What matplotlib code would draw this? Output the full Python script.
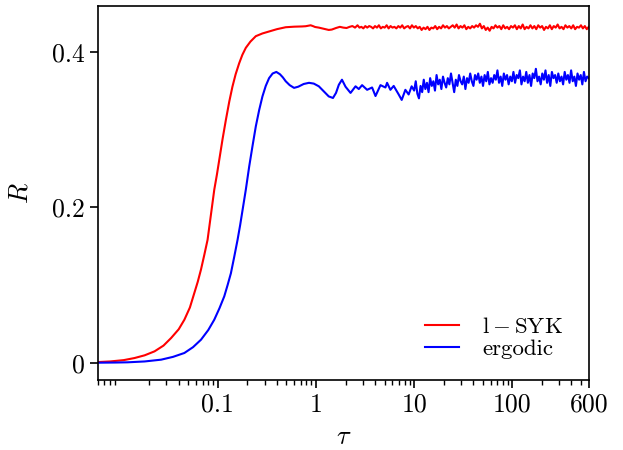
import numpy as np
import matplotlib
matplotlib.use('Agg')
import matplotlib.pyplot as plt
from matplotlib.ticker import FixedLocator, FixedFormatter, LogLocator, NullFormatter

plt.rcParams['font.family'] = 'serif'
plt.rcParams['font.serif'] = ['cmr10', 'DejaVu Serif']
plt.rcParams['mathtext.fontset'] = 'cm'
plt.rcParams['axes.unicode_minus'] = False

# l-SYK: smooth rise, then noisy plateau
syk_tau = [0.006, 0.008, 0.011, 0.0142, 0.018, 0.0227, 0.028, 0.0335, 0.04, 0.0457,
           0.052, 0.0577, 0.0625, 0.0675, 0.073, 0.0787, 0.0865, 0.0921, 0.098, 0.1035,
           0.112, 0.121, 0.131, 0.141, 0.152, 0.165, 0.178, 0.193, 0.215, 0.244,
           0.285, 0.333, 0.4, 0.492, 0.6, 0.72, 0.786, 0.84, 0.883, 0.93,
           0.98, 1.07, 1.2, 1.35, 1.45, 1.6, 1.75, 1.9, 2.05, 2.2,
           2.35, 2.5]
syk_R = [0.0008, 0.0016, 0.0033, 0.006, 0.0095, 0.0146, 0.022, 0.0318, 0.043, 0.0553,
         0.071, 0.0896, 0.104, 0.12, 0.139, 0.158, 0.197, 0.2225, 0.242, 0.261,
         0.288, 0.3125, 0.336, 0.355, 0.371, 0.385, 0.396, 0.405, 0.413, 0.420,
         0.4235, 0.426, 0.429, 0.4315, 0.4322, 0.4325, 0.4328, 0.4335, 0.434, 0.433,
         0.4318, 0.431, 0.4295, 0.428, 0.4285, 0.4305, 0.432, 0.431, 0.4305, 0.432,
         0.433, 0.431]
syk_noisy = [0.434, 0.431, 0.432, 0.430, 0.433, 0.431, 0.433, 0.432, 0.430, 0.433,
             0.431, 0.434, 0.430, 0.432, 0.431, 0.434, 0.430, 0.433, 0.431, 0.432,
             0.430, 0.433, 0.431, 0.434, 0.430, 0.432, 0.433, 0.430, 0.434, 0.431,
             0.433, 0.430, 0.432, 0.428, 0.431, 0.429, 0.432, 0.428, 0.431, 0.430,
             0.433, 0.429, 0.432, 0.430, 0.434, 0.431, 0.433, 0.430, 0.432, 0.434,
             0.431, 0.435, 0.430, 0.433, 0.431, 0.434, 0.429, 0.432, 0.430, 0.433,
             0.431, 0.434, 0.432, 0.436, 0.430, 0.433, 0.428, 0.431, 0.427, 0.432,
             0.430, 0.434, 0.431, 0.433, 0.429, 0.434, 0.430, 0.432, 0.429, 0.433,
             0.431, 0.434, 0.429, 0.433, 0.430, 0.435, 0.429, 0.432, 0.430, 0.434,
             0.430, 0.433, 0.429, 0.434, 0.431, 0.433, 0.428, 0.432, 0.430, 0.434,
             0.429, 0.433, 0.431, 0.435, 0.430, 0.432, 0.429, 0.434, 0.431, 0.433,
             0.430, 0.434, 0.429, 0.432, 0.431, 0.434, 0.430, 0.433, 0.429, 0.432]

# ergodic: rise, overshoot, oscillations, noisy plateau
erg_tau = [0.006, 0.009, 0.0121, 0.018, 0.0265, 0.035, 0.0457, 0.056, 0.0675, 0.08,
           0.0921, 0.104, 0.1164, 0.126, 0.136, 0.147, 0.159, 0.169, 0.179, 0.193,
           0.209, 0.226, 0.244, 0.264, 0.285, 0.308, 0.333, 0.362, 0.395, 0.43,
           0.46, 0.492, 0.54, 0.598, 0.66, 0.75, 0.849, 0.95, 1.07, 1.2,
           1.35, 1.49, 1.6, 1.71, 1.84, 2.0, 2.25, 2.53, 2.73, 2.95,
           3.32, 3.73, 4.04, 4.54, 5.1, 5.3, 5.73, 6.19, 6.96, 7.47,
           8.14, 8.79, 9.43]
erg_R = [0.0, 0.0002, 0.0005, 0.0016, 0.0039, 0.0075, 0.0125, 0.02, 0.0296, 0.042,
         0.0553, 0.07, 0.0853, 0.1, 0.115, 0.136, 0.158, 0.177, 0.197, 0.2225,
         0.2525, 0.279, 0.304, 0.325, 0.3425, 0.356, 0.366, 0.372, 0.374, 0.371,
         0.367, 0.362, 0.357, 0.3535, 0.355, 0.3585, 0.36, 0.359, 0.3555, 0.349,
         0.3425, 0.3405, 0.347, 0.3575, 0.364, 0.355, 0.347, 0.3555, 0.352, 0.357,
         0.351, 0.354, 0.343, 0.357, 0.354, 0.36, 0.351, 0.356, 0.345, 0.338,
         0.351, 0.345, 0.3555]
erg_noisy = [0.350, 0.362, 0.346, 0.340, 0.356, 0.348, 0.364, 0.352, 0.360, 0.348,
             0.366, 0.356, 0.362, 0.350, 0.370, 0.358, 0.364, 0.352, 0.368, 0.360,
             0.354, 0.366, 0.358, 0.372, 0.360, 0.348, 0.364, 0.356, 0.370, 0.362,
             0.358, 0.368, 0.352, 0.366, 0.360, 0.372, 0.362, 0.356, 0.370, 0.364,
             0.372, 0.360, 0.368, 0.356, 0.370, 0.362, 0.374, 0.358, 0.366, 0.360,
             0.370, 0.364, 0.376, 0.360, 0.368, 0.356, 0.372, 0.364, 0.370, 0.358,
             0.368, 0.362, 0.374, 0.360, 0.370, 0.366, 0.376, 0.358, 0.368, 0.362,
             0.374, 0.360, 0.370, 0.356, 0.372, 0.366, 0.378, 0.362, 0.368, 0.358,
             0.372, 0.364, 0.376, 0.360, 0.370, 0.356, 0.374, 0.366, 0.370, 0.360,
             0.372, 0.362, 0.368, 0.358, 0.374, 0.364, 0.370, 0.360, 0.376, 0.362,
             0.368, 0.356, 0.372, 0.364, 0.370, 0.358, 0.374, 0.362, 0.368, 0.366]

x_ticks = [0.1, 1, 10, 100, 600]
x_labels = ['0.1', '1', '10', '100', '600']
y_ticks = [0, 0.2, 0.4]
y_labels = ['0', '0.2', '0.4']

# sampling grid for the noisy parts
syk_tau_all = np.concatenate([syk_tau, np.geomspace(2.65, 600, len(syk_noisy))])
syk_R_all = np.concatenate([syk_R, syk_noisy])
erg_tau_all = np.concatenate([erg_tau, np.geomspace(10, 600, len(erg_noisy))])
erg_R_all = np.concatenate([erg_R, erg_noisy])

fig = plt.figure(figsize=(6.23, 4.5), dpi=100)
ax = fig.add_axes([0.157, 0.156, 0.788, 0.831])

ax.plot(syk_tau_all, syk_R_all, color='red', lw=1.5, label=r'$\mathrm{l} - \mathrm{SYK}$')
ax.plot(erg_tau_all, erg_R_all, color='blue', lw=1.5, label='ergodic')

ax.set_xscale('log')
ax.set_xlim(0.006, 600)
ax.set_ylim(-0.022, 0.459)

ax.xaxis.set_major_locator(FixedLocator(x_ticks))
ax.xaxis.set_major_formatter(FixedFormatter(x_labels))
ax.xaxis.set_minor_locator(LogLocator(base=10, subs=np.arange(2, 10), numticks=20))
ax.xaxis.set_minor_formatter(NullFormatter())
ax.yaxis.set_major_locator(FixedLocator(y_ticks))
ax.yaxis.set_major_formatter(FixedFormatter(y_labels))

ax.tick_params(axis='both', which='major', labelsize=18.5, length=6, width=1.2)
ax.tick_params(axis='x', which='minor', length=3.5, width=1)
for s in ax.spines.values():
    s.set_linewidth(1.2)

ax.set_xlabel(r'$\tau$', fontsize=19, labelpad=6)
ax.set_ylabel(r'$R$', fontsize=19, labelpad=14)

ax.legend(loc='lower right', frameon=False, fontsize=16.5, handlelength=1.5,
          handletextpad=1.0, borderaxespad=0.5, labelspacing=0.1,
          bbox_to_anchor=(0.99, 0.0))

fig.savefig('out.png', dpi=100)
